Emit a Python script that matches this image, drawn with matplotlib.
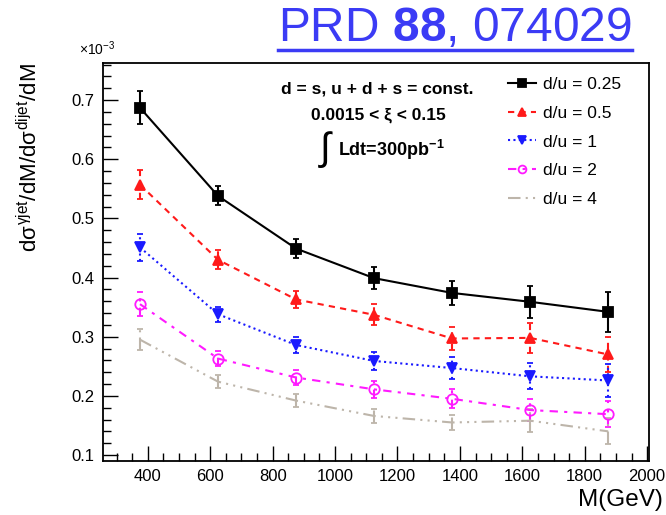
import numpy as np
import matplotlib
matplotlib.use("Agg")
import matplotlib.pyplot as plt
from matplotlib.lines import Line2D
from matplotlib.ticker import MultipleLocator, FormatStrFormatter

plt.rcParams['font.family'] = ['Liberation Sans', 'DejaVu Sans']
plt.rcParams['mathtext.fontset'] = 'custom'
plt.rcParams['mathtext.rm'] = 'Liberation Sans'
plt.rcParams['mathtext.it'] = 'Liberation Sans'
plt.rcParams['mathtext.bf'] = 'Liberation Sans:bold'

# invariant mass bin centres (GeV)
mass = [375, 625, 875, 1125, 1375, 1625, 1875]

# ratio values in units of 1e-3, one list per d/u choice
r025 = [0.687, 0.538, 0.449, 0.399, 0.374, 0.359, 0.342]
e025 = [0.028, 0.016, 0.016, 0.018, 0.021, 0.027, 0.034]
r05 = [0.557, 0.430, 0.363, 0.337, 0.297, 0.298, 0.270]
e05 = [0.025, 0.016, 0.015, 0.018, 0.020, 0.025, 0.030]
r1 = [0.451, 0.338, 0.286, 0.259, 0.247, 0.233, 0.226]
e1 = [0.023, 0.013, 0.013, 0.015, 0.018, 0.022, 0.028]
r2 = [0.355, 0.263, 0.231, 0.211, 0.195, 0.176, 0.169]
e2 = [0.020, 0.012, 0.013, 0.014, 0.016, 0.018, 0.022]
r4 = [0.295, 0.224, 0.192, 0.166, 0.155, 0.158, 0.140]
e4 = [0.018, 0.011, 0.011, 0.012, 0.013, 0.019, 0.022]

labels = ['d/u = 0.25', 'd/u = 0.5', 'd/u = 1', 'd/u = 2', 'd/u = 4']

series = [
    (r025, e025, 'black', 's', '-', 'black', 7),
    (r05, e05, '#ff1a1a', '^', (0, (3, 2.5)), '#ff1a1a', 7),
    (r1, e1, '#1a1aff', 'v', (0, (1, 1.6)), '#1a1aff', 7),
    (r2, e2, '#ff1aff', 'o', (0, (4, 3, 1.5, 3)), 'none', 7.5),
    (r4, e4, '#bdb5aa', '', (0, (6, 2.5, 1, 2.5, 1, 2.5, 1, 2.5)), '#bdb5aa', 0),
]

fig = plt.figure(figsize=(6.66, 5.15), dpi=100)
ax = fig.add_axes([0.154, 0.105, 0.821, 0.773])

handles = []
for (vals, errs, col, mk, ls, mfc, ms), lab in zip(series, labels):
    cont = ax.errorbar(mass, vals, yerr=errs, color=col, marker=mk, ms=ms,
                       mfc=mfc, mec=col, mew=1.3, lw=1.5, ls=ls,
                       elinewidth=1.5, capsize=2.5, capthick=1.5)
    cont[2][0].set_linestyle(ls)
    handles.append(cont[0])

ax.set_xlim(255, 2007)
ax.set_ylim(0.09, 0.763)
ax.xaxis.set_major_locator(MultipleLocator(200))
ax.xaxis.set_minor_locator(MultipleLocator(50))
ax.yaxis.set_major_locator(MultipleLocator(0.1))
ax.yaxis.set_minor_locator(MultipleLocator(0.02))
ax.tick_params(which='major', direction='in', length=11, width=1, labelsize=12, pad=6)
ax.tick_params(which='minor', direction='in', length=6, width=1)
ax.tick_params(axis='y', which='both', left=True, right=False)
ax.tick_params(axis='x', which='both', bottom=True, top=False)
ax.yaxis.set_major_formatter(FormatStrFormatter('%g'))
for sp in ax.spines.values():
    sp.set_linewidth(1.3)

ax.set_xlabel('M(GeV)', fontsize=17.5, ha='right')
ax.xaxis.set_label_coords(1.025, -0.07)
ax.set_ylabel(r'd$\sigma^{\gamma jet}$/dM/d$\sigma^{dijet}$/dM', fontsize=16, ha='right')
ax.yaxis.set_label_coords(-0.11, 1.0)
fig.text(0.118, 0.893, r'$\times$10$^{-3}$', fontsize=10)

ax.legend(handles, labels, loc='upper left', bbox_to_anchor=(0.72, 0.995),
          frameon=False, fontsize=12.5, handlelength=1.6, handletextpad=0.4,
          labelspacing=0.78, borderaxespad=0.3, markerscale=0.75)

fig.text(0.566, 0.827, 'd = s, u + d + s = const.', fontsize=12.5, weight='bold', ha='center', va='center')
fig.text(0.568, 0.776, '0.0015 < ξ < 0.15', fontsize=12.5, weight='bold', ha='center', va='center')
fig.text(0.488, 0.71, '∫', fontsize=28, ha='center', va='center')
fig.text(0.507, 0.708, r'Ldt=300pb$^{\mathbf{-1}}$', fontsize=13, weight='bold', ha='left', va='center')

# publication reference, underlined
ref = fig.text(0.949, 0.945, r'PRD $\mathbf{88}$, 074029', fontsize=34.5, color='#3b3bf5', ha='right', va='center')
fig.canvas.draw()
bb = ref.get_window_extent().transformed(fig.transFigure.inverted())
fig.add_artist(Line2D([bb.x0, bb.x1], [bb.y0 + 0.002, bb.y0 + 0.002], color='#3b3bf5', lw=2.5,
                      transform=fig.transFigure))

fig.savefig('out.png', dpi=100)
